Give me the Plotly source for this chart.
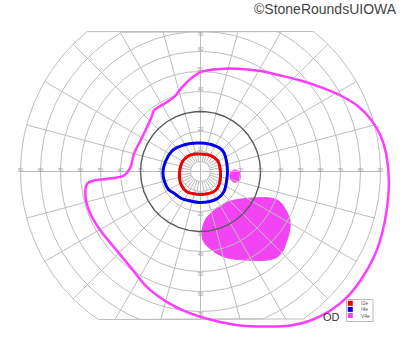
import numpy as np
import plotly.graph_objects as go

# ---- data (degrees of visual field; x = right, y = up) ----
red_x = [0, 5, 8.5, 9.8, 10, 9.5, 7.5, 4, 0, -4, -7, -9.5, -10.5, -10.3, -9, -6, -3, 0]
red_y = [8.7, 8, 5.5, 1.5, -2, -6, -9.5, -11, -11.5, -11, -10, -7, -3, 1, 5, 7.8, 8.7, 8.7]

blue_x = [0, 6.7, 11, 12.8, 13.5, 13, 11.5, 8, 0, -6, -9.5, -13, -16, -18, -18.8, -17.5, -14.5, -10.5, -5, 0]
blue_y = [14.2, 13, 10.5, 6, 0, -5, -10.5, -13.8, -15.5, -14.5, -13.5, -11, -9, -5, -0.5, 5, 10, 12.5, 14, 14.2]

v4_x = [0, 10, 20, 30, 40, 50, 60, 70, 78.3, 85, 90, 92.8, 94.2, 93.3, 90.8, 86.7, 80, 73.3, 65, 55, 45,
        33.3, 20, 6.7, -6.7, -16.7, -26.7, -35, -43.3, -50, -55, -57.5, -56.7, -53.3, -46.7, -38.3, -35,
        -33.3, -30, -26.7, -24.2, -23.3, -18.3, -13.3, -9.2, -5, 0]
v4_y = [49.7, 51.3, 51.3, 50.2, 48, 45.5, 42.2, 38, 33, 26.3, 18, 9, -4.5, -17.8, -31, -42.8, -54.5, -62.8,
        -69.5, -74.5, -77, -77.5, -77, -74.5, -70.3, -65.3, -57.8, -47.8, -37.8, -29.5, -21.2, -12.8, -6.2,
        -4.5, -3.7, -2, 2.2, 8.8, 15.5, 22.2, 28, 30.5, 33.8, 37.2, 42.2, 46.3, 49.7]

scot_x = [15, 20, 27, 35, 39.5, 42.5, 44.7, 44.5, 43, 41, 38, 33, 23, 15, 10, 5, 1.5, 0.8, 2, 4.5, 8.5, 12, 15]
scot_y = [-14.8, -13.8, -13.2, -13.3, -15, -19, -24.5, -30, -35, -40, -43, -44.3, -44.3, -43.5, -42, -38.7,
          -35, -30, -25, -21.5, -18.2, -16, -14.8]

spot_center = (17.4, -2.3)
spot_axes = (2.7, 3.1)

ring_radii = [10, 20, 30, 40, 50, 60, 70, 80, 90]
h_labels = [10, 20, 30, 40, 50, 60, 70, 80, 90]
v_labels_top = [10, 20, 30, 40, 50, 60, 70]
v_labels_bot = [10, 20, 30, 40, 50, 60, 70]
legend_names = ["I2e", "I4e", "V4e"]

RED = "rgb(235,0,0)"
BLUE = "rgb(0,0,235)"
MAG = "rgb(255,60,255)"
MAGF = "rgb(242,68,242)"
GRID = "#bdbdbd"
TOP, BOT = 70, -74

fig = go.Figure()

# scotoma fills (under the grid)
fig.add_trace(go.Scatter(x=scot_x, y=scot_y, mode="lines", fill="toself", fillcolor=MAGF,
                         line=dict(color=MAGF, width=1, shape="spline", smoothing=1.0),
                         hoverinfo="skip", showlegend=False))
t = np.linspace(0, 2 * np.pi, 60)
fig.add_trace(go.Scatter(x=spot_center[0] + spot_axes[0] * np.cos(t),
                         y=spot_center[1] + spot_axes[1] * np.sin(t),
                         mode="lines", fill="toself", fillcolor=MAGF, line=dict(color=MAGF, width=1),
                         hoverinfo="skip", showlegend=False))

# grid
gx, gy = [], []
a = np.linspace(0, 2 * np.pi, 721)
for r in [5] + ring_radii:
    if r == 30:
        continue
    gx += list(r * np.cos(a)) + [None]
    gy += list(np.clip(r * np.sin(a), BOT, TOP)) + [None]
for deg in range(0, 360, 15):
    th = np.radians(deg)
    s, c = np.sin(th), np.cos(th)
    rmax = 90
    if s > 1e-9:
        rmax = min(90, TOP / s)
    elif s < -1e-9:
        rmax = min(90, -BOT / -s)
    r0 = 0 if deg % 90 == 0 else 10
    gx += [r0 * c, rmax * c, None]
    gy += [r0 * s, rmax * s, None]
for deg in range(0, 360, 10):
    th = np.radians(deg)
    gx += [5 * np.cos(th), 10 * np.cos(th), None]
    gy += [5 * np.sin(th), 10 * np.sin(th), None]
fig.add_trace(go.Scatter(x=gx, y=gy, mode="lines", line=dict(color=GRID, width=1),
                         hoverinfo="skip", showlegend=False))
fig.add_trace(go.Scatter(x=30 * np.cos(a), y=30 * np.sin(a), mode="lines",
                         line=dict(color="#5a5a5a", width=1.4), hoverinfo="skip", showlegend=False))

# axis labels
lx, ly, lt = [], [], []
for v in h_labels:
    lx += [v, -v]; ly += [0.6, 0.6]; lt += [str(v), str(v)]
for v in v_labels_top:
    lx.append(0); ly.append(min(v + 1, 68.5)); lt.append(str(v))
for v in v_labels_bot:
    lx.append(0); ly.append(-(v + 1.5)); lt.append(str(v))
fig.add_trace(go.Scatter(x=lx, y=ly, text=lt, mode="text",
                         textfont=dict(size=5, color="#9a9a9a", family="Liberation Sans"),
                         hoverinfo="skip", showlegend=False))

# isopters
fig.add_trace(go.Scatter(x=v4_x, y=v4_y, mode="lines",
                         line=dict(color=MAG, width=2.5, shape="spline", smoothing=1.0),
                         hoverinfo="skip", showlegend=False))
fig.add_trace(go.Scatter(x=blue_x, y=blue_y, mode="lines",
                         line=dict(color=BLUE, width=3, shape="spline", smoothing=1.3),
                         hoverinfo="skip", showlegend=False))
fig.add_trace(go.Scatter(x=red_x, y=red_y, mode="lines",
                         line=dict(color=RED, width=3, shape="spline", smoothing=1.3),
                         hoverinfo="skip", showlegend=False))

W, H = 400, 352
def px(x):
    return x / W
def py(y):
    return 1 - y / H

shapes = [dict(type="rect", xref="paper", yref="paper", x0=px(346.5), x1=px(373), y0=py(321.5), y1=py(299.5),
               line=dict(color="#bbbbbb", width=1), fillcolor="white", layer="above")]
annotations = []
for i, (name, col) in enumerate(zip(legend_names, [RED, BLUE, MAG])):
    y0 = 300.8 + i * 6.1
    shapes.append(dict(type="rect", xref="paper", yref="paper", x0=px(347.8), x1=px(352.8),
                       y0=py(y0 + 5), y1=py(y0), line=dict(width=0), fillcolor=col, layer="above"))
    annotations.append(dict(x=px(359), y=py(y0 + 2.5), xref="paper", yref="paper", text=name,
                            showarrow=False, xanchor="left", yanchor="middle",
                            font=dict(size=5, color="#555", family="Liberation Sans")))
annotations.append(dict(x=px(321), y=py(316.5), xref="paper", yref="paper", text="OD", showarrow=False,
                        xanchor="left", yanchor="middle",
                        font=dict(size=11, color="#333", family="Liberation Sans")))
annotations.append(dict(x=px(399), y=py(9), xref="paper", yref="paper", text="©StoneRoundsUIOWA",
                        showarrow=False, xanchor="right", yanchor="middle",
                        font=dict(size=14, color="#444", family="Liberation Sans")))

fig.update_layout(
    width=W, height=H, margin=dict(l=0, r=0, t=0, b=0),
    paper_bgcolor="white", plot_bgcolor="white",
    xaxis=dict(range=[-100.25, 99.75], visible=False, fixedrange=True),
    yaxis=dict(range=[-90.25, 85.75], visible=False, fixedrange=True),
    shapes=shapes, annotations=annotations, showlegend=False,
)
fig.write_html("out.html")
